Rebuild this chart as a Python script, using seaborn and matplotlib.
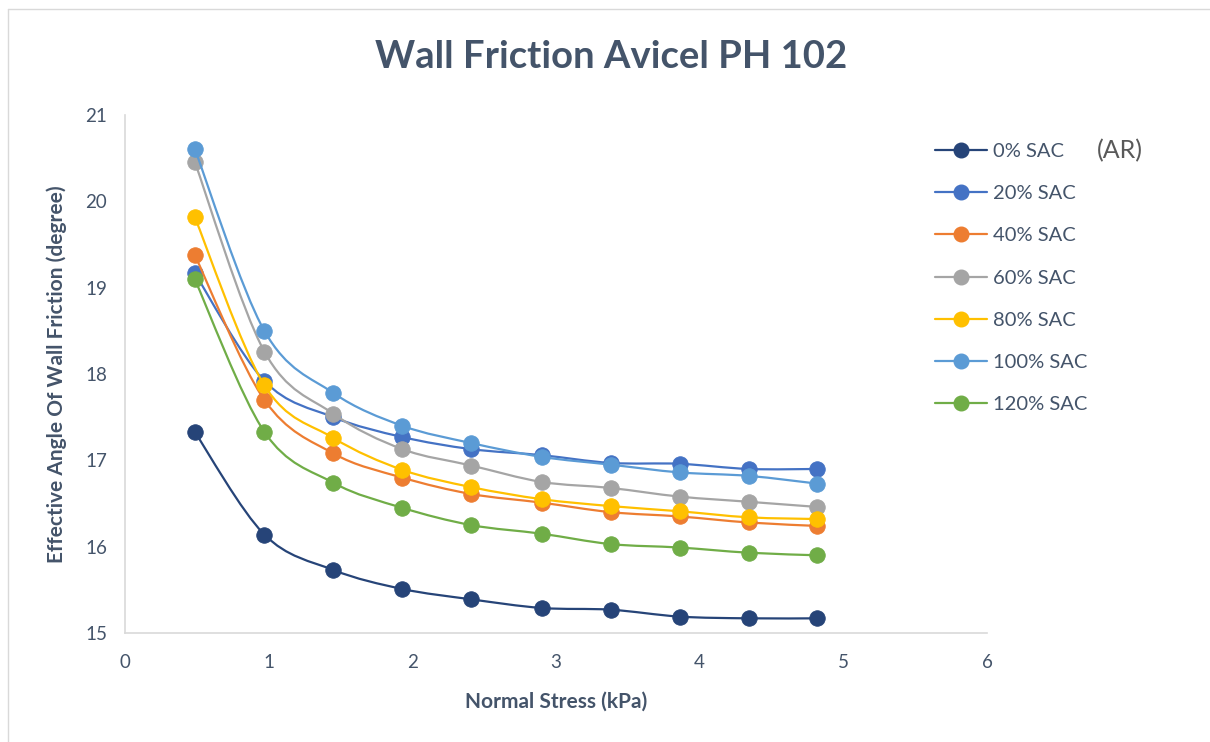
import numpy as np
import pandas as pd
import matplotlib
matplotlib.use("Agg")
import matplotlib.pyplot as plt
from matplotlib.path import Path
from matplotlib.patches import PathPatch
from matplotlib.lines import Line2D
import seaborn as sns

# ---------------- data ----------------
normal_stress = [0.485, 0.97, 1.45, 1.93, 2.41, 2.90, 3.38, 3.86, 4.34, 4.82]
series_names = ["0% SAC", "20% SAC", "40% SAC", "60% SAC", "80% SAC", "100% SAC", "120% SAC"]
sac_0 = [17.33, 16.14, 15.73, 15.51, 15.39, 15.29, 15.27, 15.19, 15.17, 15.17]
sac_20 = [19.17, 17.92, 17.50, 17.27, 17.13, 17.06, 16.97, 16.96, 16.90, 16.90]
sac_40 = [19.38, 17.70, 17.08, 16.80, 16.61, 16.51, 16.40, 16.35, 16.28, 16.24]
sac_60 = [20.46, 18.26, 17.54, 17.13, 16.94, 16.75, 16.68, 16.58, 16.52, 16.46]
sac_80 = [19.82, 17.87, 17.26, 16.89, 16.69, 16.55, 16.47, 16.41, 16.34, 16.32]
sac_100 = [20.61, 18.50, 17.78, 17.40, 17.20, 17.04, 16.95, 16.86, 16.82, 16.73]
sac_120 = [19.10, 17.33, 16.74, 16.45, 16.25, 16.15, 16.03, 15.99, 15.93, 15.90]
colors = ["#264478", "#4472C4", "#ED7D31", "#A5A5A5", "#FFC000", "#5B9BD5", "#70AD47"]
x_ticks = [0, 1, 2, 3, 4, 5, 6]
y_ticks = [15, 16, 17, 18, 19, 20, 21]

all_vals = [sac_0, sac_20, sac_40, sac_60, sac_80, sac_100, sac_120]
df = pd.DataFrame({
    "stress": np.tile(normal_stress, len(series_names)),
    "angle": np.concatenate(all_vals),
    "series": np.repeat(series_names, len(normal_stress)),
})

TEXT = "#44546A"
sns.set_theme(style="white")
plt.rcParams["font.family"] = ["Lato", "DejaVu Sans"]

W, H = 1210, 742
fig = plt.figure(figsize=(W / 100, H / 100), dpi=100)
ax = fig.add_axes([125 / W, 1 - 633 / H, (987 - 125) / W, (633 - 115) / H])


def smooth_path(xs, ys):
    pts = np.column_stack([xs, ys])
    n = len(pts)
    verts = [pts[0]]
    codes = [Path.MOVETO]
    for i in range(n - 1):
        p0 = pts[i - 1] if i > 0 else pts[i]
        p1 = pts[i]
        p2 = pts[i + 1]
        p3 = pts[i + 2] if i + 2 < n else pts[i + 1]
        c1 = p1 + (p2 - p0) / 6.0
        c2 = p2 - (p3 - p1) / 6.0
        verts += [c1, c2, p2]
        codes += [Path.CURVE4] * 3
    return Path(verts, codes)


for k, (name, col) in enumerate(zip(series_names, colors)):
    sub = df[df["series"] == name]
    patch = PathPatch(smooth_path(sub["stress"].values, sub["angle"].values),
                      facecolor="none", edgecolor=col, lw=1.6, zorder=2 + 2 * k)
    ax.add_patch(patch)
    sns.scatterplot(data=sub, x="stress", y="angle", color=col, s=125,
                    edgecolor=col, linewidth=0.6, ax=ax, zorder=3 + 2 * k, legend=False)

ax.set_xlim(0, 6)
ax.set_ylim(15, 21)
ax.set_xticks(x_ticks)
ax.set_yticks(y_ticks)
ax.tick_params(axis="x", colors=TEXT, labelsize=13.5, length=0, pad=15)
ax.tick_params(axis="y", colors=TEXT, labelsize=13.5, length=0, pad=13)
for lab in ax.get_xticklabels() + ax.get_yticklabels():
    lab.set_color(TEXT)
for s in ["top", "right"]:
    ax.spines[s].set_visible(False)
for s in ["left", "bottom"]:
    ax.spines[s].set_color("#D9D9D9")
    ax.spines[s].set_linewidth(1.2)
ax.grid(False)

ax.set_xlabel("Normal Stress (kPa)", color=TEXT, fontsize=15, fontweight="bold", labelpad=15)
ax.set_ylabel("Effective Angle Of Wall Friction (degree)", color=TEXT, fontsize=15,
              fontweight="bold", labelpad=13)
fig.text(611 / W, 1 - 57 / H, "Wall Friction Avicel PH 102", ha="center", va="center",
         color=TEXT, fontsize=27.5, fontweight="bold")

handles = [Line2D([0], [0], color=c, lw=1.6, marker="o", markersize=10.5,
                  markeredgecolor=c) for c in colors]
leg = fig.legend(handles, series_names, loc="upper left",
                 bbox_to_anchor=(935 / W, 1 - 143 / H), frameon=False,
                 fontsize=14.5, handlelength=2.6, labelspacing=1.245, handletextpad=0.3,
                 borderpad=0, borderaxespad=0)
for t in leg.get_texts():
    t.set_color(TEXT)
fig.text(1120 / W, 1 - 151 / H, "(AR)", ha="center", va="center", color="#595959", fontsize=18)

# chart border
fig.add_artist(Line2D([8 / W, 8 / W], [0, 1 - 9 / H], transform=fig.transFigure,
                      color="#D9D9D9", lw=1))
fig.add_artist(Line2D([8 / W, 1], [1 - 9 / H, 1 - 9 / H], transform=fig.transFigure,
                      color="#D9D9D9", lw=1))

fig.savefig("out.png", dpi=100)
